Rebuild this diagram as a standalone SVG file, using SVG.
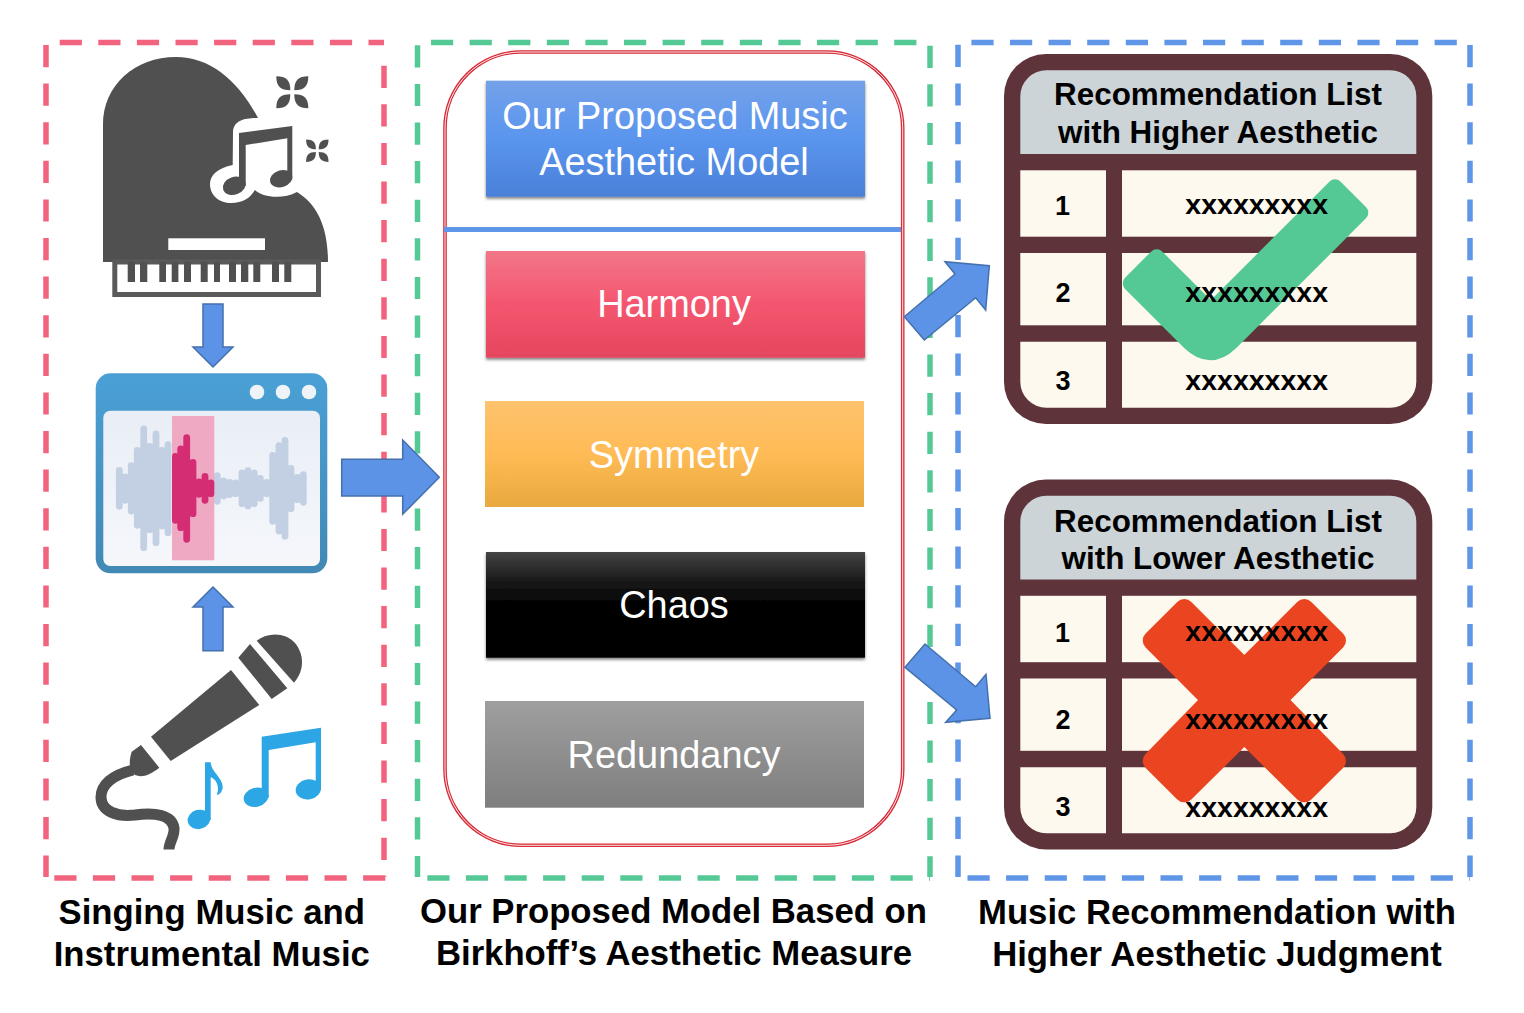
<svg xmlns="http://www.w3.org/2000/svg" xmlns:xlink="http://www.w3.org/1999/xlink" width="1524" height="1013" viewBox="0 0 1524 1013">
<style>
text{font-family:"Liberation Sans",Arial,sans-serif;text-anchor:middle}
.frame{fill:none;stroke-width:5.5;stroke-dasharray:22.2 16.4}
.pink{stroke:#f2647e}.green{stroke:#55c995}.blue{stroke:#5f96e8}
.dark{fill:#505050}
.box{font-size:37.9px;fill:#fff}
.cap{font-size:34.7px;font-weight:700;fill:#000}
.head{font-size:31.4px;font-weight:700;fill:#000}
.num{font-size:27px;font-weight:700;fill:#000}
.xx{font-size:28.5px;font-weight:700;fill:#000}
.arrow{fill:#5c93e6;stroke:#4470ad;stroke-width:1.5;stroke-linejoin:miter}
.tb{fill:#5e343a}.hd{fill:#ccd4d8}.cell{fill:#fdf9ee}
.ms{fill:#2ca6e4}
</style>
<defs>
<linearGradient id="gBlue" x1="0" y1="0" x2="0" y2="1"><stop offset="0" stop-color="#74a1e9"/><stop offset=".5" stop-color="#5a95ee"/><stop offset="1" stop-color="#4a80d8"/></linearGradient>
<linearGradient id="gRed" x1="0" y1="0" x2="0" y2="1"><stop offset="0" stop-color="#f27688"/><stop offset=".5" stop-color="#f4566f"/><stop offset="1" stop-color="#e5465f"/></linearGradient>
<linearGradient id="gOr" x1="0" y1="0" x2="0" y2="1"><stop offset="0" stop-color="#fec36e"/><stop offset=".5" stop-color="#ffbb55"/><stop offset="1" stop-color="#e8a93f"/></linearGradient>
<linearGradient id="gBk" x1="0" y1="0" x2="0" y2="1"><stop offset="0" stop-color="#444"/><stop offset=".3" stop-color="#161616"/><stop offset=".52" stop-color="#000"/><stop offset="1" stop-color="#000"/></linearGradient>
<linearGradient id="gGr" x1="0" y1="0" x2="0" y2="1"><stop offset="0" stop-color="#9f9f9f"/><stop offset="1" stop-color="#7e7e7e"/></linearGradient>
<linearGradient id="gWin" x1="0" y1="0" x2="0" y2="1"><stop offset="0" stop-color="#4aa0d5"/><stop offset="1" stop-color="#4289b5"/></linearGradient>
<linearGradient id="gIn" x1="0" y1="0" x2="0" y2="1"><stop offset="0" stop-color="#e9eef6"/><stop offset="1" stop-color="#f5f7fb"/></linearGradient>
<filter id="sh" x="-5%" y="-5%" width="110%" height="115%"><feDropShadow dx="0" dy="2" stdDeviation="1.5" flood-color="#000" flood-opacity=".5"/></filter>
<g id="flower"><path id="pt" d="M-2,-2C-2,-12-6,-16-16,-16C-16,-6-12,-2-2,-2Z"/><use xlink:href="#pt" transform="rotate(90)"/><use xlink:href="#pt" transform="rotate(180)"/><use xlink:href="#pt" transform="rotate(270)"/></g>
<g id="tablebg">
<rect class="tb" x="1004" y="54" width="428.300" height="370" rx="42"/>
<path class="hd" d="M1020.300,154V96.300a26,26 0 0 1 26,-26H1390.300a26,26 0 0 1 26,26V154Z"/>
<rect class="cell" x="1020.300" y="170.300" width="85.700" height="66.400"/>
<rect class="cell" x="1122" y="170.300" width="294.300" height="66.400"/>
<rect class="cell" x="1020.300" y="253" width="85.700" height="72.300"/>
<rect class="cell" x="1122" y="253" width="294.300" height="72.300"/>
<path class="cell" d="M1020.300,341.700H1106V407.700H1046.300a26,26 0 0 1 -26,-26Z"/>
<path class="cell" d="M1122,341.700H1416.300V381.700a26,26 0 0 1 -26,26H1122Z"/>
</g>
</defs>
<rect width="1524" height="1013" fill="#fff"/>

<g id="frames">
<path class="frame pink" d="M59.700,42.500H384M46,45V877M384,65.700V877M54.300,878H386.700"/>
<path class="frame green" d="M431,42.500H930M417.500,45.300V877M930,45.700V877M427.300,878H930"/>
<path class="frame blue" d="M971.400,42.500H1470M958,44.800V877M1470,45V877M967.500,878H1470"/>
</g>

<g id="piano">
<path class="dark" d="M103,262V125C103,85 135,57 176,57C210,57 238,80 258,118L297,192C318,205 328,228 328,262Z"/>
<path fill="#fff" d="M258,118C245,118 233,120 233,133L232.700,165C218,168 210,175 210,184C210,196 220,203 231,203C243,203 250,198 255,190C262,197 282,200 297,192L305,118Z"/>
<path class="dark" d="M239,133L292.300,126V178H287.300V138.300L245.700,145V186H239Z"/>
<ellipse class="dark" cx="234.300" cy="185.800" rx="11.800" ry="8.800" transform="rotate(-20 234.300 185.800)"/>
<ellipse class="dark" cx="281.200" cy="178.700" rx="11.500" ry="8.400" transform="rotate(-18 281.200 178.700)"/>
<rect x="168.300" y="238.300" width="96.700" height="11.700" fill="#fff"/>
<use xlink:href="#flower" class="dark" transform="translate(292.300,92.300)"/>
<use xlink:href="#flower" class="dark" transform="translate(317.300,150.700) scale(.7)"/>
<rect x="114.800" y="262" width="203.700" height="32.500" fill="#fff" stroke="#5a5a5a" stroke-width="5"/>
<path class="dark" d="M127.700,262h7.300v20h-7.300zM140,262h7.300v20h-7.300zM159.300,262h6.700v20h-6.700zM171.700,262h6.700v20h-6.700zM184,262h7v20h-7zM200.700,262h7v20h-7zM214,262h6v20h-6zM229,262h7v20h-7zM241,262h7.300v20h-7.300zM253.300,262h7v20h-7zM272,262h7v20h-7zM284.300,262h7v20h-7z"/>
</g>

<g id="audio-window">
<rect x="95.700" y="373.300" width="231.600" height="200" rx="15" fill="url(#gWin)"/>
<rect x="103.300" y="410.700" width="216.700" height="155.300" rx="7" fill="url(#gIn)"/>
<circle cx="257" cy="392" r="7.300" fill="#eef3f8"/><circle cx="283" cy="392" r="7.300" fill="#eef3f8"/><circle cx="309" cy="392" r="7.300" fill="#eef3f8"/>
<path fill="none" stroke="#c3d0e3" stroke-width="6.800" stroke-linecap="round" d="M119.300,470.300V506.300M125.300,477V500.300M131.300,465.700V511M137.300,450.300V525.300M143.700,429V547.700M149.700,446.300V529.700M156,434V542.700M162,450.300V526M168,444.700V532.700M217.300,475.700V501.300M223.700,481V496M229.700,482.300V494.700M235.700,483V493.700M242,473V503.700M248,470.700V506M254.300,473V503.700M260.300,478.300V498.300M266.700,482.300V493.700M272.700,455.300V521.300M279,445.700V531M285,440.300V536.300M291,468.300V508.700M297.300,477.300V499.700M303.300,474.700V502.300"/>
<rect x="172" y="416" width="42.300" height="144.300" fill="#f0a9c3"/>
<path fill="none" stroke="#d42d74" stroke-width="6.800" stroke-linecap="round" d="M175.400,456.300V520.300M180.700,449V527.700M186.700,437.700V539.300M193,462.300V513.700M199,482V494.300M205,476.300V500.300M210.900,483V493.700"/>
</g>

<g id="microphone">
<path class="dark" d="M256.700,640.700C268,632 285,632 295,643C304,654 305,670 294,682.700Z"/>
<path class="dark" d="M250,644L287.300,688.300L271.700,699L238.300,657.700Z"/>
<path class="dark" d="M231,670L259.300,705L170.700,761L151,736.700Z"/>
<path class="dark" d="M141,745L159.300,767.700C150,775 142,778 135,775C128.300,770 129,760 131.700,751.700Z"/>
<path fill="none" stroke="#505050" stroke-width="11" d="M133,770C112,775 101,785 101,797C101,812 118,817 135,815C155,812 172,815 174,828C175,836 169,842 169,849.500"/>
<path class="ms" d="M205,762.300H210.700C211,772 223,778 222.700,787C222.500,792 219,795 216.700,795C219,790 219,781 210.700,777V820H205Z"/>
<ellipse class="ms" cx="199" cy="819.300" rx="11.500" ry="9.500" transform="rotate(-15 199 819.300)"/>
<path class="ms" d="M261.700,736.700L321,727.700V790H315.700V742.300L268.700,750V798H261.700Z"/>
<ellipse class="ms" cx="256" cy="797.300" rx="12.500" ry="9.500" transform="rotate(-15 256 797.300)"/>
<ellipse class="ms" cx="308.300" cy="789.300" rx="12.700" ry="10" transform="rotate(-10 308.300 789.300)"/>
</g>

<g id="model-panel">
<rect x="445" y="52" width="457.700" height="793.300" rx="76" fill="#fff" stroke="#d92b38" stroke-width="3.600"/>
<rect x="445" y="52" width="457.700" height="793.300" rx="76" fill="none" stroke="#fff" stroke-width=".9"/>
<rect x="444" y="227" width="457" height="5" fill="#5f96e8"/>
</g>
<g id="node-model"><rect x="486" y="80.700" width="379" height="116" fill="url(#gBlue)" filter="url(#sh)"/>
<text class="box" x="675" y="129.300">Our Proposed Music</text><text class="box" x="674" y="175.300">Aesthetic Model</text></g>
<g id="node-harmony"><rect x="486" y="251" width="379" height="106.700" fill="url(#gRed)" filter="url(#sh)"/><text class="box" x="674" y="317">Harmony</text></g>
<g id="node-symmetry"><rect x="485" y="401" width="379" height="106" fill="url(#gOr)"/><text class="box" x="674" y="468.300">Symmetry</text></g>
<g id="node-chaos"><rect x="486" y="552" width="379" height="105.700" fill="url(#gBk)" filter="url(#sh)"/><text class="box" x="674" y="618">Chaos</text></g>
<g id="node-redundancy"><rect x="485" y="701" width="379" height="106.700" fill="url(#gGr)"/><text class="box" x="674" y="768">Redundancy</text></g>

<g id="table-higher">
<use xlink:href="#tablebg"/>
<path fill="#55c995" stroke="#55c995" stroke-width="16" stroke-linejoin="round" d="M1335,187.300L1360.300,212.700L1230.400,342.600Q1210.200,362 1190,342.600L1130.700,283.300L1156.700,257.300L1210.900,311.500Z"/>
<text class="head" x="1218" y="105.300">Recommendation List</text><text class="head" x="1218" y="142.500">with Higher Aesthetic</text>
<text class="num" x="1062.500" y="215">1</text><text class="num" x="1063" y="302">2</text><text class="num" x="1063" y="390">3</text>
<text class="xx" x="1256.700" y="214">xxxxxxxxx</text><text class="xx" x="1256.700" y="301.700">xxxxxxxxx</text><text class="xx" x="1256.700" y="390">xxxxxxxxx</text>
</g>
<g id="table-lower">
<use xlink:href="#tablebg" transform="translate(0,425.500)"/>
<path fill="#ea4520" stroke="#ea4520" stroke-width="20" stroke-linejoin="round" d="M1184.300,609L1244.300,669L1304.300,609L1336,640.500L1276.500,700L1336,761L1304.300,792.300L1244.300,733L1184.300,792.300L1152.700,761L1212,700L1152.700,640.500Z"/>
<text class="head" x="1218" y="532">Recommendation List</text><text class="head" x="1218" y="569">with Lower Aesthetic</text>
<text class="num" x="1062.500" y="642">1</text><text class="num" x="1063" y="729">2</text><text class="num" x="1063" y="816.300">3</text>
<text class="xx" x="1256.700" y="641">xxxxxxxxx</text><text class="xx" x="1256.700" y="729">xxxxxxxxx</text><text class="xx" x="1256.700" y="817">xxxxxxxxx</text>
</g>

<g id="connectors">
<path class="arrow" d="M203,304H223V347H233L213,367L193,347H203Z"/>
<path class="arrow" d="M213,587L233,607H223V650.700H203V607H193Z"/>
<path class="arrow" d="M341.700,459.300H402.700V440L439.300,477.300L402.700,514.300V496H341.700Z"/>
<path class="arrow" d="M904.300,316.700L955,274L945,261.700L989.300,265.700L985.700,310L975.700,297.700L924.300,340Z"/>
<path class="arrow" d="M905,667.300L925,644L975.700,686.700L986,674.300L990,718.300L945.700,722.300L956.700,710Z"/>
</g>

<g id="captions">
<text class="cap" x="211.800" y="924">Singing Music and</text><text class="cap" x="211.800" y="966">Instrumental Music</text>
<text class="cap" x="673.500" y="923">Our Proposed Model Based on</text><text class="cap" x="674" y="965">Birkhoff’s Aesthetic Measure</text>
<text class="cap" x="1217" y="924">Music Recommendation with</text><text class="cap" x="1217" y="966">Higher Aesthetic Judgment</text>
</g>
</svg>
